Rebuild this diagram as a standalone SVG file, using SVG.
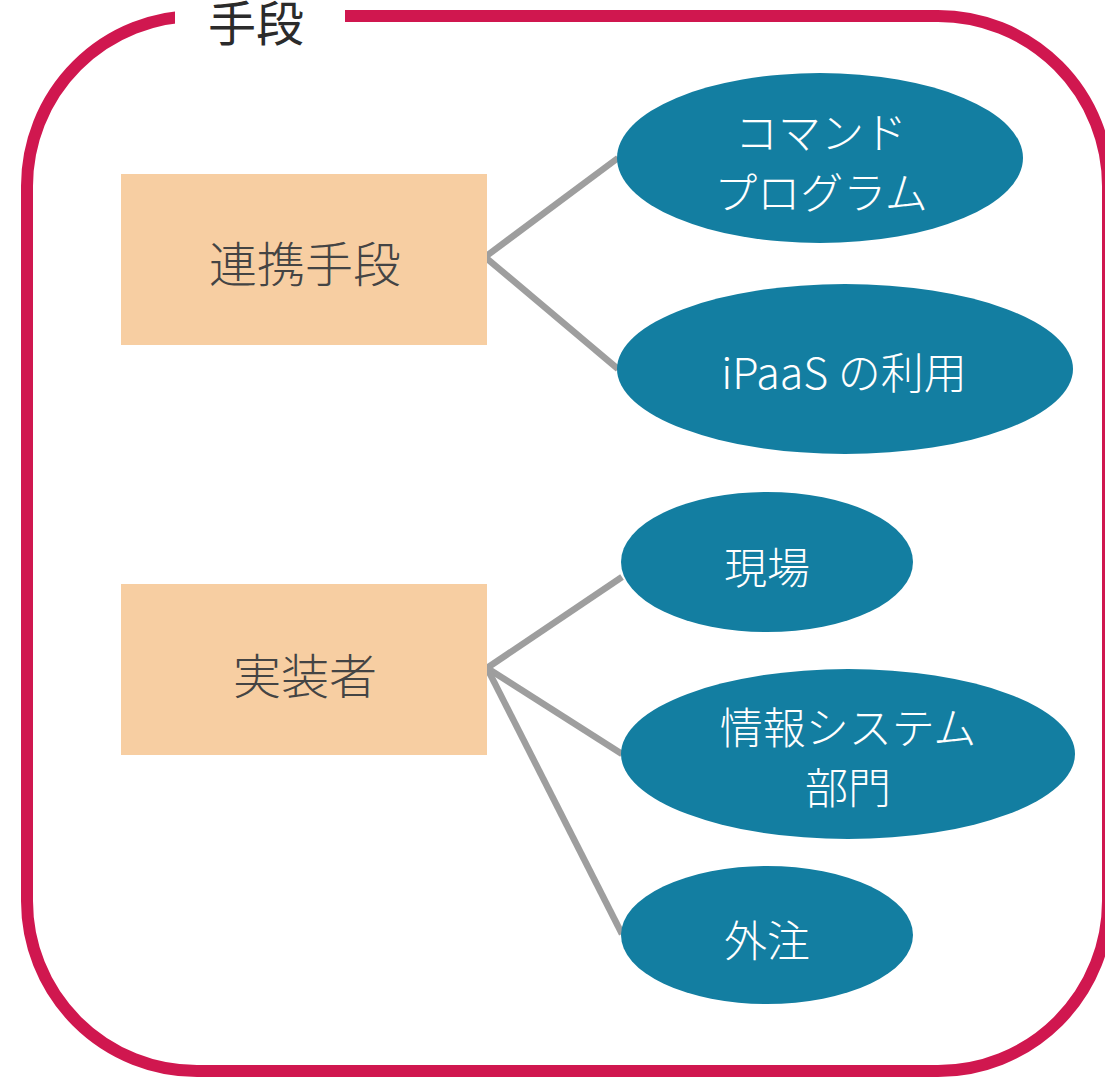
<svg xmlns="http://www.w3.org/2000/svg" width="1105" height="1077" viewBox="0 0 1105 1077">
<style>
.frame{fill:none;stroke:#d0174f;stroke-width:12}
.box{fill:#f7cea2}
.oval{fill:#137ea1}
.lbl{font-family:"Noto Sans CJK JP","Noto Sans",sans-serif;font-weight:300;text-anchor:middle;dominant-baseline:central}
.boxt{fill:#444444;font-size:48px}
.ovt{fill:#ffffff;font-size:43px}
.edge{stroke:#9e9e9e;stroke-width:6.5;fill:none}
</style>
<rect width="1105" height="1077" fill="#ffffff"/>
<g id="frame">
<rect class="frame" x="27" y="16" width="1081" height="1055" rx="170" ry="170"/>
<rect x="175" y="0" width="170" height="30" fill="#ffffff"/>
<text class="lbl" x="256" y="20" style="fill:#2b2b2b;font-size:48px;font-weight:400">手段</text>
</g>
<g id="connectors">
<line class="edge" x1="485" y1="257" x2="618" y2="158"/>
<line class="edge" x1="485" y1="257" x2="618" y2="369"/>
<line class="edge" x1="487" y1="668" x2="622" y2="577"/>
<line class="edge" x1="487" y1="668" x2="622" y2="754"/>
<line class="edge" x1="487" y1="668" x2="622" y2="934"/>
</g>
<g id="node-renkei">
<rect class="box" x="121" y="174" width="366" height="171"/>
<text class="lbl boxt" x="305" y="261">連携手段</text>
</g>
<g id="node-jissou">
<rect class="box" x="121" y="584" width="366" height="171"/>
<text class="lbl boxt" x="305" y="673">実装者</text>
</g>
<g id="node-command">
<ellipse class="oval" cx="820" cy="158" rx="203" ry="85"/>
<text class="lbl ovt" x="821" y="130">コマンド</text>
<text class="lbl ovt" x="821" y="190">プログラム</text>
</g>
<g id="node-ipaas">
<ellipse class="oval" cx="845" cy="369" rx="228" ry="85"/>
<text class="lbl ovt" x="844" y="370">iPaaS の利用</text>
</g>
<g id="node-genba">
<ellipse class="oval" cx="767" cy="562" rx="146" ry="70"/>
<text class="lbl ovt" x="767" y="565">現場</text>
</g>
<g id="node-joho">
<ellipse class="oval" cx="848" cy="754" rx="227" ry="85"/>
<text class="lbl ovt" x="848" y="725">情報システム</text>
<text class="lbl ovt" x="848" y="785">部門</text>
</g>
<g id="node-gaichu">
<ellipse class="oval" cx="767" cy="935" rx="146" ry="69"/>
<text class="lbl ovt" x="767" y="938">外注</text>
</g>
</svg>
